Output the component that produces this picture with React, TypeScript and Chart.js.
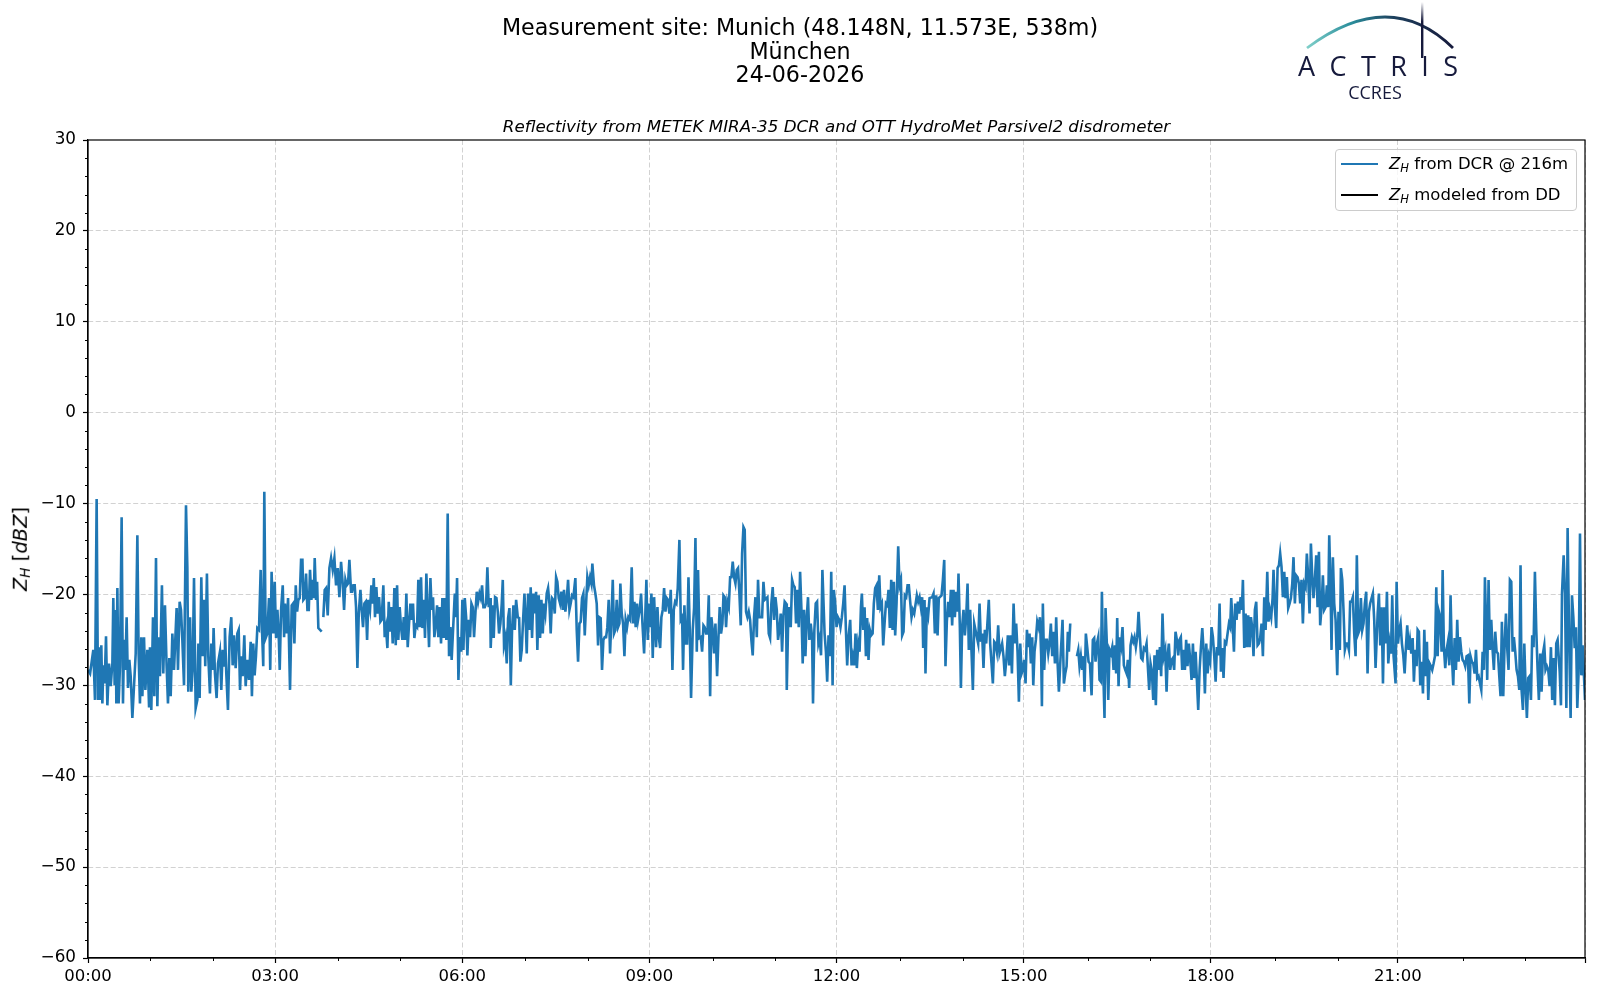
import { useEffect, useRef } from 'react';
import Chart from 'chart.js/auto';

// Z_H from the DCR, [minutes after 00:00, dBZ]; null marks a gap in the record
const zhDcr: [number, number | null][] = [
  [0,-28.3],[2,-28.7],[5.1,-26.1],[6.7,-31.6],[8.3,-9.5],[9.6,-31.6],[10.6,-25.8],[11.5,-31.6],[12.8,-25.6],[13.8,-32],
  [14.7,-27.8],[16,-29.8],[17.3,-24.6],[18.6,-32.2],[20.2,-27.6],[21.8,-30.1],[23.4,-27.6],[24.3,-20.4],[25.6,-30],[26.6,-21.7],
  [27.2,-32],[28.2,-19.3],[29.4,-32],[30.7,-27.9],[32.3,-11.5],[33.6,-32],[34.6,-25],[35.8,-28.3],[37.1,-22.5],[38.4,-30.3],
  [39.7,-27.2],[41,-29],[42.6,-33.6],[45.8,-26.5],[47.4,-13.5],[48.6,-26.5],[49.9,-32],[51.2,-24.7],[52.2,-31.2],[53.8,-24.7],
  [55.1,-30.5],[57,-26.1],[58.6,-32.3],[59.5,-25.8],[60.8,-32.7],[62.4,-22.5],[63.7,-31.2],[65.3,-16],[66.6,-32.3],[67.8,-24.7],
  [69.1,-29],[71,-19],[72.3,-28.7],[73.9,-21.2],[75.5,-27.9],[76.8,-32],[78.1,-27],[79.4,-31.2],[81,-24.3],[82.6,-28.3],
  [85.1,-21.5],[86.4,-28.3],[88,-20.8],[89.3,-21.7],[90.6,-25],[92.2,-30],[94.1,-10.2],[95.4,-17],[96.3,-30.7],[98,-22.5],
  [99.2,-30.7],[100.5,-28.3],[101.8,-18.2],[103.4,-32.5],[105,-31.6],[106,-25.4],[107.2,-31.4],[108.8,-18.1],[110.1,-26.8],[111.4,-20.6],
  [112.6,-27.9],[114.2,-17.7],[115.5,-26.8],[117.1,-30.9],[118.4,-25.4],[119.7,-28.3],[120.6,-23.7],[121.9,-28.7],[123.5,-31.4],[124.8,-27.6],
  [126.7,-26.3],[128,-30.5],[129.3,-26.1],[130.6,-27.8],[131.5,-23.7],[132.8,-28.7],[134.4,-32.7],[136,-24.7],[137.6,-22.5],[138.9,-27.8],
  [140.2,-24.5],[141.8,-28.1],[143.4,-24.3],[144.7,-23.9],[146,-30.5],[147.2,-26.8],[148.5,-29],[150.1,-24.5],[151.4,-30.1],[153,-27.2],
  [154.6,-29.4],[156.2,-25.2],[157.4,-31.2],[158.7,-25.4],[160,-28.9],[161.3,-26.8],[162.6,-23.7],[164.2,-23.9],[165.8,-17.3],[167.1,-23.9],
  [168.3,-27.9],[169.3,-8.7],[170.6,-24.8],[172.2,-24.3],[173.8,-20.4],[175,-28.3],[176.3,-17.5],[178,-24.3],[179.3,-18.6],[180.6,-24.8],
  [181.9,-21.7],[183.2,-24.7],[184.1,-28.3],[185.4,-21.7],[187,-19],[188.3,-24.7],[189.2,-21],[190.8,-24.3],[192.1,-20.4],[194,-30.5],
  [195.6,-21.2],[196.9,-21],[198.2,-25.4],[199.5,-19],[200.8,-21.9],[202,-20.6],[203.3,-20.4],[204.6,-16.2],[205.9,-16.2],[206.8,-20.6],
  [208.1,-20.4],[209.4,-17.7],[210.7,-21.7],[212,-21.7],[213.2,-17.3],[214.5,-20.6],[215.8,-18.4],[216.8,-20.4],[217.7,-16],[219,-20.6],
  [220,-18.6],[221.2,-23.7],[224.4,-24.1],[225.2,null],[226,-22.5],[227.3,-19.5],[228.6,-19.3],[230.2,-22.3],[231.8,-17.1],[233.4,-16],
  [235,-17.3],[236.6,-16],[238.2,-19],[239.8,-17.1],[241.4,-20.3],[243,-16.4],[244.6,-18.8],[245.9,-21.7],[247.2,-18.4],[248.4,-19],
  [249.7,-18.8],[251,-16.2],[252.6,-19.7],[253.6,-19.7],[254.8,-19],[256.1,-19],[257.4,-21.4],[258.7,-28.1],[260,-22.1],[261.6,-19.5],
  [262.8,-21.7],[264.1,-23.6],[265.4,-21],[266.7,-20.8],[268,-25],[269.2,-20.6],[270.8,-21.7],[272.1,-19],[273.4,-21],[274.4,-18.2],
  [275.6,-22.5],[276.9,-19.2],[278.2,-22.1],[279.5,-20.3],[280.8,-23],[282,-22.8],[283.6,-19],[284.9,-24.7],[286.2,-23.7],[287.5,-25.9],
  [288.8,-20.8],[290,-24.1],[291.3,-21.4],[292.6,-25.4],[294.2,-19.3],[295.5,-25.6],[296.8,-19],[298,-25],[299.3,-21.4],[300.6,-23.6],
  [301.9,-25],[303.2,-22.5],[304.4,-25],[305.7,-19.9],[307,-25.8],[308.3,-23.2],[309.6,-21],[310.8,-22.8],[312.1,-21],[313.4,-24.8],
  [314.7,-23.4],[316,-23.6],[317.2,-18.4],[318.5,-23.6],[319.8,-18.1],[321.1,-23.7],[322.4,-20.6],[323.6,-24.8],[324.9,-17.7],[326.2,-21.7],
  [327.5,-25.8],[328.8,-18.2],[330,-21.7],[331.3,-20.3],[332.6,-24.7],[333.9,-23.4],[335.2,-21.2],[336.4,-24.7],[337.7,-21.4],[339,-25.4],
  [340.3,-20.4],[341.6,-24.8],[342.8,-20.4],[344.1,-25],[345.4,-11.1],[346.7,-26.8],[348,-23.6],[349.2,-27.2],[352.2,-19.9],[353.3,-22.5],
  [354.4,-18.2],[355.7,-29.4],[357,-24.7],[358.3,-26.3],[359.5,-20.6],[360.5,-26.1],[361.8,-20.4],[363.1,-22.5],[364.3,-26.7],[365.6,-22.8],
  [366.9,-24.7],[368.2,-21],[369.5,-21.4],[370.7,-24.7],[372,-22.1],[373.3,-19.7],[374.6,-20.8],[375.9,-19.9],[377.1,-20.4],[378.4,-19],
  [379.7,-21.4],[381,-21.4],[382.3,-21],[383.5,-17],[384.8,-21.4],[386.1,-20.4],[386.7,-25.9],[388.3,-21.2],[389.6,-24.8],[390.9,-20.3],
  [392.2,-20.4],[393.5,-21.9],[394.7,-24.3],[396,-23.2],[397.3,-21],[398.3,-18.4],[399.5,-25.6],[400.8,-24.8],[402.1,-27.6],[403.4,-22.6],
  [404.7,-21.5],[406,-30],[407.2,-23.9],[408.5,-21.2],[409.8,-23.9],[411.1,-20.6],[412.7,-22.5],[414,-22.6],[415.2,-27.4],[416.5,-26.1],
  [417.8,-22.8],[419.1,-19.9],[420,-22.1],[421.3,-26.5],[422.6,-19.9],[423.9,-23.9],[425.1,-19.2],[426.4,-24.8],[427.7,-19.9],[429,-22.1],
  [430.3,-19.7],[431.5,-26.1],[432.8,-20.1],[434.1,-24.8],[435.4,-20.6],[436.7,-24.3],[437.9,-21],[439.2,-22.1],[440.5,-19.9],[441.8,-19.3],
  [443.1,-21],[444.3,-24.3],[445.6,-20.4],[446.9,-20.6],[448.2,-22.1],[449.5,-18.1],[450.7,-18.6],[452,-20.4],[453.3,-21],[454.6,-19.7],
  [455.9,-21.7],[457.1,-19.5],[458.4,-21.9],[459.7,-20.6],[461,-18.4],[462.3,-21.7],[463.5,-21],[464.8,-20.1],[466.1,-20.3],[468,-18.2],
  [469.3,-23.9],[470.6,-27.4],[471.9,-23.2],[473.1,-23],[474.4,-20.4],[475.7,-19.9],[477,-24.5],[478.3,-21],[479.5,-18.1],[480.8,-19],
  [482.1,-18.1],[483.4,-18.8],[484.3,-16.6],[485.9,-19],[487.2,-19.9],[488.5,-21],[489.8,-25.6],[491.1,-22.5],[492.3,-22.6],[493.6,-28.3],
  [494.9,-25],[496.2,-24.7],[497.5,-24.7],[498.7,-23.6],[500,-20.6],[501.3,-26.5],[502.6,-22.8],[503.9,-18.4],[505.1,-24.3],[506.4,-23.9],
  [507.7,-20.6],[509,-23.6],[510.3,-23.2],[511.2,-18.8],[512.5,-22.1],[513.8,-23.2],[515.1,-26.8],[516.3,-22.8],[517.6,-23.6],[518.9,-22.5],
  [520.5,-22.8],[522.1,-17],[523.4,-23.2],[524.7,-20.8],[525.9,-23.6],[527.2,-21],[528.2,-22.8],[529.8,-21.7],[531.1,-19.9],[532.4,-23.2],
  [534,-26.5],[535.3,-21.7],[536.2,-18.4],[537.5,-25],[538.8,-21],[540.1,-23.6],[541,-19.9],[542.3,-27],[543.6,-20.3],[545.5,-25.8],
  [546.8,-21.4],[548.1,-24.7],[549.4,-25.9],[550.6,-22.5],[551.9,-21.7],[553.2,-19.3],[554.5,-21.9],[555.8,-20.4],[557,-20.6],[558.3,-22.1],
  [559.6,-19.5],[561.2,-28.3],[562.5,-21.7],[563.8,-20.8],[565,-21],[566.3,-19.3],[567.9,-14],[569.2,-22.8],[570.5,-22.5],[571.4,-28.3],
  [572.7,-21.2],[574,-25.4],[575.3,-25.4],[576.6,-18.1],[577.8,-23.7],[579.1,-31.4],[580.7,-23.9],[582,-21.5],[583.3,-13.8],[584.6,-26.3],
  [585.8,-17.3],[587.1,-24.8],[588.4,-24.7],[589.7,-26.3],[591,-23.4],[592.2,-23.6],[593.5,-24.3],[594.8,-24.3],[596.1,-20.1],[597.4,-31.2],
  [598.6,-22.5],[599.9,-23.9],[601.2,-26.5],[602.5,-23.2],[604.1,-29],[605.4,-24.7],[606.6,-21.4],[607.9,-24.3],[609.2,-23.2],[610.2,-20.1],
  [611.4,-20.3],[612.7,-23.6],[614,-20.8],[615.3,-21.4],[616.6,-18.1],[617.8,-18.1],[619.1,-16.4],[620.4,-18.1],[621.7,-18.8],[623,-17.3],
  [624.2,-17.1],[625.5,-19.9],[626.8,-23.4],[628.1,-15.5],[629.4,-12.6],[630.6,-12.9],[631.9,-21.9],[633.2,-22.5],[634.5,-21.9],[635.8,-22.8],
  [637,-25],[638.3,-26.7],[639.6,-22.5],[640.9,-20.3],[642.2,-24.7],[643.4,-18.4],[644.7,-22.5],[647.3,-22.5],[648.6,-18.6],[649.8,-20.6],
  [652.4,-20.3],[653.7,-24.3],[655,-24.8],[656.2,-21],[657.5,-19.2],[658.8,-22.8],[660.1,-20.3],[661.4,-21.7],[662.6,-25],[663.9,-23.9],
  [665.2,-22.1],[666.5,-26.3],[667.8,-22.3],[669,-20.8],[670.3,-21],[671,-30.5],[672.2,-23.7],[673.5,-21.4],[674.8,-23.6],[676.1,-18.4],
  [677.4,-19],[678.6,-19.2],[679.9,-23.2],[681.2,-19.5],[682.5,-23.6],[683.8,-17.5],[685,-21.4],[686.3,-27.6],[687.6,-21.7],[688.9,-26.8],
  [690.2,-22.5],[691.4,-20.3],[692.7,-25],[694,-23.2],[695.3,-24.7],[696.2,-32],[697.5,-23.9],[698.8,-21],[700.1,-20.8],[701.4,-25.4],
  [702.6,-24.8],[703.9,-26.7],[705.2,-17.3],[707.3,-24.3],[708.6,-26.3],[709.8,-29.6],[711.1,-24.5],[712.4,-26.8],[713.7,-17.5],[715,-30],
  [716.2,-19.5],[717.5,-21],[718.8,-23.6],[720.1,-22.5],[721.4,-22.8],[722.6,-23.6],[723.9,-22.5],[725.2,-21],[726.5,-19],[727.8,-23.9],
  [729,-27.8],[730.3,-24.7],[731.9,-22.8],[733.2,-27.8],[734.5,-26.8],[735.8,-27.8],[737,-24.3],[738.3,-28.1],[739.6,-25.4],[740.9,-26.3],
  [742.2,-21.4],[743.1,-19.9],[744.4,-23.9],[745.7,-21.4],[747,-26.8],[748.2,-22.6],[749.5,-27.2],[750.8,-23.9],[752.1,-24.5],[753.4,-24.3],
  [754.6,-21],[755.9,-19.3],[757.2,-19],[758.5,-21.7],[759.8,-17.9],[761,-21.4],[762.3,-21],[763.6,-25.6],[764.9,-23.2],[766.2,-21],
  [767.4,-21.2],[768.7,-19.5],[770,-23.7],[771.3,-18.4],[772.6,-23.9],[773.8,-18.6],[775.1,-24.5],[776.4,-21],[778,-14.7],[779.3,-19],
  [780.6,-18.4],[781.8,-24.5],[783.1,-24.1],[784.4,-20.1],[785.7,-20.3],[787,-19],[788.2,-19],[789.5,-20.8],[790.8,-22.5],[792.1,-21.7],
  [793.4,-22.1],[795.9,-20.1],[797.2,-20.8],[798.5,-20.3],[799.8,-21.4],[801,-20.3],[802,-25.9],[803.3,-20.6],[804.2,-28.7],[805.5,-21.4],
  [806.8,-22.3],[808.1,-20.4],[810.6,-20.3],[811.9,-19.9],[813.2,-24.3],[814.5,-20.1],[815.8,-24.5],[817,-20.4],[819.6,-20.1],[820.9,-18.4],
  [822.2,-16.2],[823.4,-27.9],[824.7,-23],[826,-20.8],[827.3,-22.5],[828.6,-19.5],[829.8,-23.4],[831.1,-19.5],[832.4,-22.5],[833.7,-19.7],
  [835,-21.9],[835.9,-17.7],[837.2,-23.6],[838.2,-30.3],[839.4,-23.6],[840.7,-21.7],[842,-24.5],[843.3,-22.5],[844.6,-18.8],[845.8,-26.1],
  [847.1,-21.7],[848.4,-26.3],[849.7,-30.5],[851,-23.2],[852.2,-23.9],[854.8,-25.4],[856.1,-21],[857.4,-25.2],[858.6,-24.3],[859.9,-28.1],
  [861.2,-23.9],[862.5,-25.4],[865,-20.6],[866.3,-25.4],[867.6,-27.6],[868.9,-29.8],[870.2,-25.2],[871.4,-25.4],[872.7,-26.3],[874,-23.4],
  [875.3,-26.5],[877.8,-25.4],[879.1,-26.8],[880.4,-29],[881.7,-27.4],[883.3,-24.5],[884.6,-27.8],[885.9,-24.5],[887.2,-28.7],[888.8,-21],
  [890.1,-25.4],[891.3,-23.2],[892.6,-26.3],[893.9,-31.8],[895.2,-25.4],[896.5,-28.7],[897.7,-28.3],[899,-27.2],[900.3,-29.8],[901.6,-23.9],
  [902.9,-25.8],[904.1,-24.3],[905.4,-27.6],[906.7,-24.7],[907.7,-30],[908.9,-26.3],[910.2,-25],[911.5,-23],[912.8,-23.6],[914.1,-22.5],
  [915.3,-26.8],[916,-32.3],[916.9,-21],[918.2,-28.3],[919.5,-25],[920.8,-25],[922.1,-26.5],[923.3,-25.4],[924.6,-23.2],[925.9,-26.8],
  [927.2,-24.1],[928.5,-27.6],[929.7,-22.5],[931,-27.4],[932.3,-30.7],[933.6,-27.6],[934.9,-24.8],[935.8,-22.8],[937.1,-29.8],[938.4,-28.7],
  [939.7,-27.9],[940.9,-24.1],[941.9,-26.3],[943.2,-23.2],[946,null],[949.6,-26.8],[950.9,-26.1],[952.1,-27.9],[953.4,-26.8],[954.7,-28.3],
  [956,-26.8],[956.9,-30.7],[958.2,-24.3],[959.5,-25.8],[960.8,-27.4],[962.1,-27.6],[963.7,-31.1],[964.9,-25],[966.2,-24.8],[967.5,-27.4],
  [968.8,-25.4],[970.1,-24.7],[971.3,-29.4],[972.6,-29.6],[973.6,-19.7],[974.9,-28.3],[976.1,-33.6],[977.1,-21.5],[978.4,-25.6],[979.7,-31.6],
  [980.9,-26.1],[982.2,-26.5],[983.5,-25.8],[984.8,-28.3],[986.1,-25.6],[987.3,-28.7],[988.3,-22.6],[989.6,-30.1],[990.9,-24.7],[992.1,-25.6],
  [993.4,-23.6],[994.7,-27.8],[996,-28.3],[997.3,-28.7],[998.5,-27.2],[999.8,-30.3],[1001.1,-25.6],[1002.4,-24.7],[1003.7,-25.2],[1004.9,-24.7],
  [1006.2,-25.8],[1007.5,-24.7],[1008.8,-21.9],[1010.1,-24.7],[1011.3,-27],[1012.6,-27.2],[1013.9,-25.9],[1015.2,-26.1],[1016.5,-25.4],[1017.7,-27.9],
  [1019,-30.5],[1020.3,-27.6],[1021.6,-28.5],[1022.9,-31.6],[1024.1,-26.7],[1025.4,-32.2],[1026.7,-26.1],[1028,-28.3],[1029.3,-25.8],[1030.5,-29],
  [1031.8,-22.1],[1033.1,-26.8],[1034.4,-26.1],[1035.7,-30.7],[1036.9,-26.5],[1037.9,-25.4],[1039.2,-28.3],[1040.5,-27.2],[1041.7,-27],[1043,-28.3],
  [1044.3,-24.1],[1045.6,-25],[1046.9,-26.7],[1048.1,-25],[1049.4,-24.7],[1050.7,-28.3],[1052,-26.1],[1053.3,-28.3],[1054.5,-25],[1055.8,-27.9],
  [1057.1,-25.4],[1058.4,-27.2],[1059.7,-29.4],[1061,-25.4],[1062.3,-29.2],[1063.6,-26.3],[1066.1,-32.7],[1067.4,-28.3],[1068.7,-25.8],[1070,-23.7],
  [1071.2,-26.1],[1072.5,-30.9],[1073.8,-25.4],[1075.1,-28.7],[1076.4,-26.8],[1077.6,-27.4],[1078.9,-23.6],[1080.2,-24.7],[1081.5,-26.8],[1082.8,-29.6],
  [1084,-25.8],[1085.3,-26.7],[1086.6,-21],[1087.9,-28.5],[1089.2,-25.9],[1090.4,-29.2],[1091.7,-25.2],[1093,-25.4],[1095.6,-23.2],[1096.8,-23.6],
  [1097.8,-20.4],[1099.1,-23.2],[1100.4,-26.3],[1101.6,-21],[1102.9,-22.8],[1104.2,-20.8],[1105.5,-22.1],[1106.8,-20.3],[1108,-21.7],[1109,-18.4],
  [1110.3,-25.9],[1111.6,-22.1],[1112.8,-25.8],[1114.1,-22.3],[1115.4,-25.8],[1116.7,-22.5],[1118,-23.7],[1119.2,-26.8],[1120.5,-21.7],[1121.8,-20.8],
  [1123.1,-25.6],[1124.4,-25.4],[1125.6,-24.8],[1126.9,-23.2],[1128.2,-26.8],[1129.5,-20.3],[1130.8,-23.9],[1132.4,-17.5],[1133.6,-23],[1134.9,-21.7],
  [1136.2,-22.5],[1137.5,-20.4],[1138.4,-17.3],[1139.7,-21.4],[1141,-23.7],[1142.3,-17.1],[1143.6,-16.8],[1144.8,-15.5],[1146.1,-17],[1147.4,-20.3],
  [1148.7,-17.5],[1150,-20.4],[1151.2,-18.1],[1152.5,-21.5],[1153.8,-21],[1155.1,-20.4],[1156.4,-18.8],[1157.6,-15.9],[1158.9,-21],[1160.2,-17.9],
  [1161.5,-18.1],[1162.8,-18.8],[1164,-21],[1165.3,-18.4],[1166.6,-23.2],[1167.9,-18.8],[1169.2,-19.2],[1170.4,-15.5],[1171.7,-18.1],[1173,-22.1],
  [1174.3,-14.4],[1175.6,-18.1],[1176.8,-20.4],[1178.1,-18.4],[1179.4,-15.7],[1180.7,-21.4],[1182,-15.3],[1183.2,-23.4],[1184.5,-21.5],[1185.8,-17.9],
  [1187.1,-21.7],[1188.4,-21.4],[1189.6,-19],[1190.9,-21.4],[1191.9,-13.5],[1193.2,-19.5],[1194.1,-26.1],[1195.4,-15.9],[1196.7,-21],[1198,-22.8],
  [1199.6,-28.9],[1200.8,-21.9],[1202.1,-26.1],[1203.1,-17.1],[1204.4,-18.4],[1205.6,-21.7],[1206.9,-26.1],[1208.2,-25.4],[1209.5,-25.4],[1210.8,-26.1],
  [1212,-20.8],[1213.3,-20.8],[1214.6,-20.3],[1215.9,-24.3],[1217.2,-26.8],[1218.4,-15.7],[1219.7,-24.3],[1221,-23.9],[1222.3,-20.4],[1223.6,-23.9],
  [1224.8,-23.2],[1226.1,-21],[1227.4,-19.7],[1228.7,-28.7],[1230,-21.9],[1231.2,-21],[1233.8,-19.9],[1235.1,-22.8],[1236.4,-28.1],[1238.4,-22.1],
  [1239.6,-19.9],[1240.9,-25.6],[1242.2,-21.4],[1243.5,-29.8],[1244.8,-21.4],[1246,-25.4],[1247.3,-19.7],[1248.6,-27.6],[1249.9,-25.4],[1251.2,-26.5],
  [1252.4,-20.1],[1253.7,-26.8],[1255.6,-29.8],[1256.6,-18.6],[1257.9,-25.4],[1259.2,-23.9],[1260.4,-23.2],[1261.7,-25.4],[1263,-26.7],[1264.3,-28.7],
  [1265.6,-25.6],[1266.8,-23.4],[1268.1,-26.1],[1269.4,-25],[1270.7,-26.5],[1272,-24.8],[1273.2,-29.6],[1274.5,-26.1],[1275.8,-27.9],[1276.8,-23.9],
  [1278,-24.1],[1279.3,-30],[1280.6,-27.4],[1281.9,-30.9],[1283.2,-23.9],[1284.4,-29],[1285.7,-25.2],[1287,-31.6],[1288.3,-27.6],[1289.6,-27.9],
  [1290.8,-28.3],[1292.1,-27.6],[1293.4,-26.8],[1294.7,-19.2],[1296,-26.8],[1297.2,-21.9],[1298.5,-22.5],[1299.8,-26.3],[1300.8,-17.3],[1302,-25.8],
  [1303.3,-28.1],[1304.6,-26.1],[1305.9,-25.2],[1307.2,-27.8],[1308.4,-20.1],[1309.7,-26.8],[1311,-30],[1312.3,-24.8],[1313.6,-28.3],[1314.8,-22.8],
  [1316.1,-27.4],[1317.4,-24.7],[1318.7,-26.3],[1320,-27.2],[1321.2,-27.4],[1322.5,-27.9],[1323.8,-26.8],[1325.1,-26.7],[1326.4,-32],[1327.6,-26.8],
  [1328.9,-27.4],[1330.2,-27.6],[1331.5,-28.7],[1332.8,-26.1],[1334,-29.2],[1335.3,-29],[1337.9,-30.5],[1339.2,-26.3],[1340.4,-28.3],[1341.4,-18.1],
  [1342.7,-24.1],[1343.6,-29.4],[1344.9,-18.4],[1346.2,-26.1],[1347.5,-22.8],[1348.8,-26.1],[1350,-28.3],[1351.3,-24.1],[1352.6,-26.3],[1353.9,-26.5],
  [1355.2,-29],[1356.4,-31.2],[1357.7,-23],[1359,-31.2],[1360.3,-25.4],[1361.6,-22.1],[1362.8,-25.9],[1364.1,-28.3],[1365.4,-18.4],[1366.7,-18.6],
  [1368,-26.3],[1369.2,-24.7],[1370.5,-26.3],[1371.8,-28.3],[1373.1,-29],[1374.4,-30.5],[1375.6,-16.8],[1376.6,-30.5],[1377.9,-32.7],[1379.2,-25.4],
  [1380.4,-30],[1381.7,-33.6],[1383,-29.2],[1384.3,-29],[1385.6,-31.6],[1386.8,-24.5],[1388.1,-25.8],[1389.4,-17.5],[1390.7,-23.9],[1392,-28.3],
  [1393.2,-31.6],[1394.5,-26.5],[1395.8,-30.7],[1397.1,-26.5],[1398.4,-25.6],[1399.6,-28.3],[1400.9,-27.9],[1402.2,-28.3],[1403.5,-30.1],[1404.8,-25.8],
  [1406,-31.6],[1407.3,-27],[1408.6,-32.2],[1409.9,-25.4],[1411.2,-25],[1413.2,-28.5],[1414.4,-32.2],[1415.4,-19.9],[1417,-15.7],[1418.3,-19.9],
  [1419.6,-32.5],[1420.8,-12.7],[1422.4,-25.8],[1423.7,-33.6],[1425,-20.1],[1426.3,-22.5],[1427.6,-25.9],[1428.8,-23.6],[1430.1,-32.5],[1431.4,-28.3],
  [1432.7,-13.3],[1434,-28.9],[1435.2,-25.6],[1436.5,-28.9],[1437.5,-31.6],
];

// the disdrometer series has no samples on this day
const zhModeled: [number, number][] = [];

const seriesLabels = ['from DCR @ 216m', 'modeled from DD'];
const seriesColors = ['#1f77b4', '#000000'];
const xTickLabels = ['00:00', '03:00', '06:00', '09:00', '12:00', '15:00', '18:00', '21:00'];
const xTickStep = 180; // minutes between labelled ticks
const xMinorStep = 60;
const yMin = -60;
const yMax = 30;
const yTickStep = 10;
const yMinorStep = 2;
const xEnd = 1437.5;

const FONT = "'DejaVu Sans', sans-serif";
const GRID = '#d2d2d2';

const frameAndMinorTicks = {
  id: 'frameAndMinorTicks',
  afterDraw(chart: any) {
    const { ctx, chartArea: a, scales } = chart;
    ctx.save();
    ctx.strokeStyle = '#000';
    ctx.lineWidth = 1;
    ctx.beginPath();
    for (let m = xMinorStep; m < xEnd; m += xMinorStep) {
      if (m % xTickStep === 0) continue;
      const px = Math.round(scales.x.getPixelForValue(m)) + 0.5;
      ctx.moveTo(px, a.bottom);
      ctx.lineTo(px, a.bottom + 3);
    }
    for (let v = yMin; v <= yMax; v += yMinorStep) {
      if (v % yTickStep === 0) continue;
      const py = Math.round(scales.y.getPixelForValue(v)) + 0.5;
      ctx.moveTo(a.left, py);
      ctx.lineTo(a.left - 3, py);
    }
    ctx.stroke();
    ctx.lineWidth = 1.2;
    ctx.strokeRect(a.left, a.top, a.right - a.left, a.bottom - a.top);
    ctx.restore();
  },
};

const ZH = () => (
  <>
    <i>Z</i>
    <sub style={{ fontStyle: 'italic', fontSize: '0.7em', verticalAlign: '-0.25em' }}>H</sub>
  </>
);

export default function App() {
  const chartRef = useRef<HTMLCanvasElement>(null);

  useEffect(() => {
    let chart: Chart | undefined;
    const ctx = chartRef.current?.getContext('2d');
    if (ctx) {
      chart = new Chart(ctx, {
        type: 'line',
        data: {
          datasets: [
            {
              label: seriesLabels[0],
              data: zhDcr.map(([x, y]) => ({ x, y })),
              borderColor: seriesColors[0],
              borderWidth: 2.6,
              pointRadius: 0,
              tension: 0,
              spanGaps: false,
            },
            {
              label: seriesLabels[1],
              data: zhModeled.map(([x, y]) => ({ x, y })),
              borderColor: seriesColors[1],
              borderWidth: 2.6,
              pointRadius: 0,
            },
          ],
        },
        options: {
          animation: false,
          responsive: false,
          layout: { padding: { top: 140, right: 15, left: 0, bottom: 0 } },
          plugins: {
            legend: { display: false },
            tooltip: { enabled: false },
          },
          scales: {
            x: {
              type: 'linear',
              min: 0,
              max: xEnd,
              afterFit: (s: any) => {
                s.height = 42;
              },
              ticks: {
                stepSize: xTickStep,
                includeBounds: false,
                autoSkip: false,
                maxRotation: 0,
                padding: 4,
                color: '#000',
                font: { family: FONT, size: 16.5 },
                callback: (v: any) => xTickLabels[Math.round(Number(v) / xTickStep)] ?? '',
              },
              grid: {
                color: (c: any) => (c.tick && c.tick.value === 0 ? 'rgba(0,0,0,0)' : GRID),
                lineWidth: 1,
                tickLength: 5,
                tickWidth: 1.2,
                tickColor: '#000',
              },
              border: { display: true, color: '#000', width: 1.2, dash: [5, 2.5] },
            },
            y: {
              min: yMin,
              max: yMax,
              afterFit: (s: any) => {
                s.width = 88;
              },
              ticks: {
                stepSize: yTickStep,
                padding: 7,
                color: '#000',
                font: { family: FONT, size: 16.8 },
                callback: (v: any) => String(v).replace('-', '\u2212'),
              },
              grid: {
                color: (c: any) =>
                  c.tick && (c.tick.value === yMin || c.tick.value === yMax) ? 'rgba(0,0,0,0)' : GRID,
                lineWidth: 1,
                tickLength: 5,
                tickWidth: 1.2,
                tickColor: '#000',
              },
              border: { display: true, color: '#000', width: 1.2, dash: [5, 2.5] },
            },
          },
        },
        plugins: [frameAndMinorTicks],
      });
    }
    return () => {
      chart?.destroy();
    };
  }, []);

  return (
    <div
      style={{
        position: 'absolute',
        left: 0,
        top: 0,
        width: 1600,
        height: 1000,
        background: '#fff',
        fontFamily: FONT,
        color: '#000',
      }}
    >
      <canvas ref={chartRef} width={1600} height={1000} style={{ display: 'block', width: 1600, height: 1000 }} />

      {/* figure title */}
      <div
        style={{
          position: 'absolute',
          left: 0,
          top: 16,
          width: 1600,
          textAlign: 'center',
          fontSize: 22.2,
          lineHeight: '23.5px',
        }}
      >
        <div>Measurement site: Munich (48.148N, 11.573E, 538m)</div>
        <div>München</div>
        <div>24-06-2026</div>
      </div>

      {/* axes title */}
      <div
        style={{
          position: 'absolute',
          left: 88,
          width: 1497,
          top: 116,
          textAlign: 'center',
          fontSize: 16.7,
          fontStyle: 'italic',
          lineHeight: '20px',
        }}
      >
        Reflectivity from METEK MIRA-35 DCR and OTT HydroMet Parsivel2 disdrometer
      </div>

      {/* y label */}
      <div
        style={{
          position: 'absolute',
          left: 23,
          top: 549,
          transform: 'translate(-50%, -50%) rotate(-90deg)',
          fontSize: 19.5,
          whiteSpace: 'nowrap',
          lineHeight: '22px',
        }}
      >
        <ZH /> [<i>dBZ</i>]
      </div>

      {/* legend */}
      <div
        style={{
          position: 'absolute',
          left: 1335,
          top: 149,
          width: 240,
          height: 60,
          border: '1px solid #cccccc',
          borderRadius: 4,
          background: 'rgba(255,255,255,0.8)',
          fontSize: 16.5,
        }}
      >
        {seriesLabels.map((label, i) => (
          <div
            key={label}
            style={{ position: 'absolute', left: 5, top: 3 + i * 31, height: 22, display: 'flex', alignItems: 'center', whiteSpace: 'nowrap' }}
          >
            <span style={{ display: 'inline-block', width: 37, height: 2.6, background: seriesColors[i], marginRight: 11 }} />
            <span>
              <ZH /> {label}
            </span>
          </div>
        ))}
      </div>

      {/* ACTRIS CCRES logo */}
      <svg style={{ position: 'absolute', left: 1290, top: 0 }} width={180} height={105} viewBox="0 0 180 105">
        <defs>
          <linearGradient id="arcGrad" x1="0" y1="0" x2="1" y2="0">
            <stop offset="0" stopColor="#7fcfc9" />
            <stop offset="0.3" stopColor="#2b8e9c" />
            <stop offset="0.6" stopColor="#1d3f5c" />
            <stop offset="1" stopColor="#161a3c" />
          </linearGradient>
          <linearGradient id="mastGrad" x1="0" y1="0" x2="0" y2="1">
            <stop offset="0" stopColor="#ffffff" />
            <stop offset="0.35" stopColor="#161a3c" />
            <stop offset="1" stopColor="#161a3c" />
          </linearGradient>
        </defs>
        <path d="M 17 48 Q 100 -14 163 48" fill="none" stroke="url(#arcGrad)" strokeWidth={2.8} />
        <rect x={131} y={2} width={2.4} height={56} fill="url(#mastGrad)" />
        <text
          x={8}
          y={76}
          textLength={160}
          lengthAdjust="spacing"
          fill="#161a3c"
          style={{ fontFamily: "'Open Sans', sans-serif", fontSize: 27, fontWeight: 500 }}
        >
          ACTRIS
        </text>
        <text
          x={85}
          y={99}
          textAnchor="middle"
          fill="#161a3c"
          style={{ fontFamily: "'Open Sans', sans-serif", fontSize: 18 }}
        >
          CCRES
        </text>
      </svg>
    </div>
  );
}
